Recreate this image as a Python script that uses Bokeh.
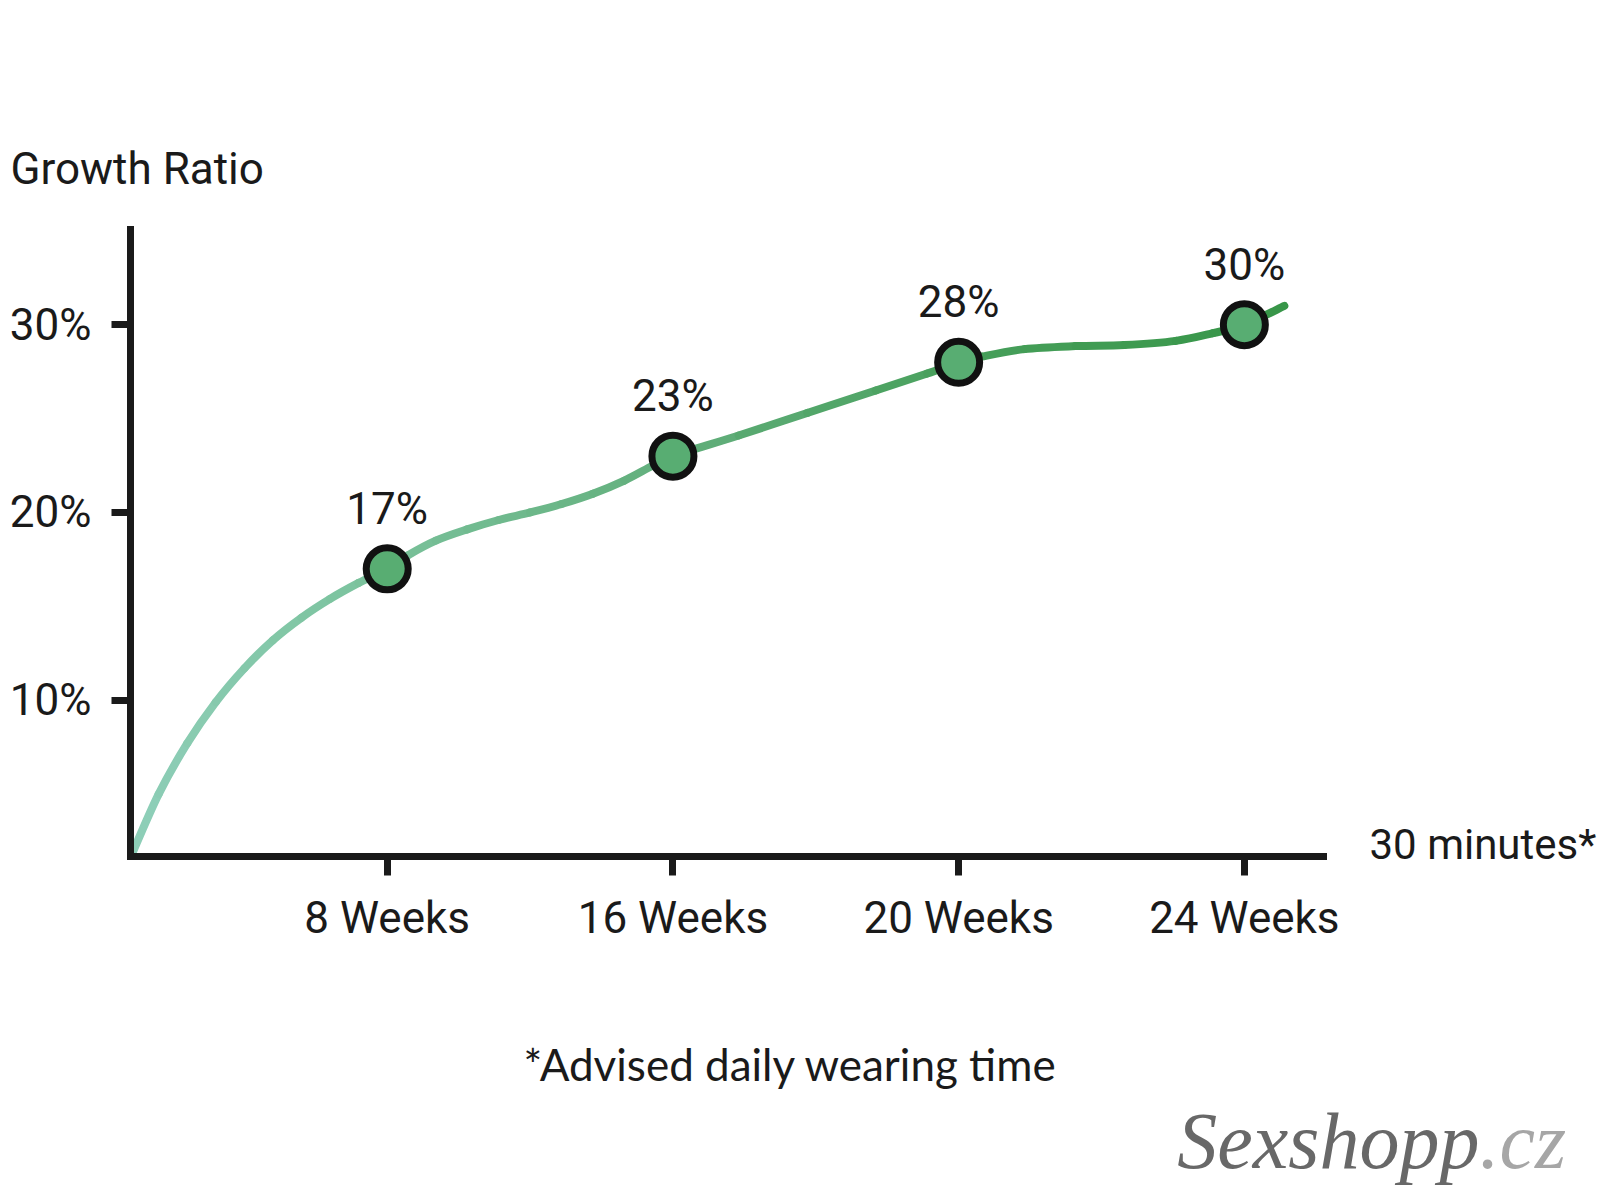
import numpy as np
from bokeh.plotting import figure
from bokeh.layouts import column, row
from bokeh.models import FixedTicker, Label, Range1d, ColumnDataSource, LinearAxis
from bokeh.core.properties import value
from bokeh.embed import file_html
from bokeh.resources import INLINE

# ---------------- data ----------------
categories = ["8 Weeks", "16 Weeks", "20 Weeks", "24 Weeks"]
positions = [1, 2, 3, 4]
growth = [17, 23, 28, 30]
point_labels = ["17%", "23%", "28%", "30%"]
y_ticks = [10, 20, 30]
y_tick_labels = ["10%", "20%", "30%"]
x_unit_label = "30 minutes*"

# curve (x = category position, y = percent)
curve_x = [0.105, 0.20, 0.30, 0.40, 0.50, 0.60, 0.70, 0.80, 0.90, 1.00,
           1.07, 1.17, 1.28, 1.39, 1.50, 1.61, 1.72, 1.83, 1.93, 2.00,
           2.23, 2.47, 2.71, 2.89, 3.00,
           3.08, 3.23, 3.41, 3.58, 3.76, 3.89, 4.00, 4.14]
curve_y = [1.75, 5.0, 7.7, 9.9, 11.7, 13.2, 14.4, 15.4, 16.25, 17.0,
           17.7, 18.5, 19.1, 19.6, 20.0, 20.45, 21.0, 21.7, 22.5, 23.0,
           24.1, 25.3, 26.5, 27.4, 28.0,
           28.3, 28.7, 28.86, 28.92, 29.14, 29.55, 30.0, 31.0]

FONT = "Roboto"
INK = "#1a1a1a"
XR = (0.1015, 4.277)
YR = (1.68, 35.07)

PAGE_W = 1599
TOP_H = 205          # strip holding the y-axis title
MAIN_H = 795         # chart
BOT_H = 1200 - TOP_H - MAIN_H
F_TOP, F_BOT, F_LEFT, F_RIGHT = 229, 856, 130, 1323   # frame edges in page px


def blank(w, h, x0, x1, y0, y1):
    f = figure(width=w, height=h, output_backend="svg", toolbar_location=None,
               x_range=Range1d(x0, x1), y_range=Range1d(y1, y0),
               x_axis_type=None, y_axis_type=None, min_border=0)
    f.outline_line_color = None
    f.xgrid.visible = False
    f.ygrid.visible = False
    f.background_fill_color = "white"
    f.border_fill_color = "white"
    return f


# ---------------- main chart ----------------
p = figure(width=PAGE_W, height=MAIN_H, output_backend="svg", toolbar_location=None,
           x_range=Range1d(*XR), y_range=Range1d(*YR),
           min_border_left=F_LEFT, min_border_top=F_TOP - TOP_H,
           min_border_bottom=TOP_H + MAIN_H - F_BOT, min_border_right=PAGE_W - F_RIGHT)
p.outline_line_color = None
p.xgrid.visible = False
p.ygrid.visible = False
p.background_fill_color = "white"
p.border_fill_color = "white"

px = np.array(curve_x)
py = np.array(curve_y)
n = len(px)
ext_x = np.concatenate([[px[0]], px, [px[-1]]])
ext_y = np.concatenate([[py[0]], py, [py[-1]]])
x0 = px[:-1]; y0 = py[:-1]; x1 = px[1:]; y1 = py[1:]
cx0 = px[:-1] + (ext_x[2:n + 1] - ext_x[0:n - 1]) / 6.0
cy0 = py[:-1] + (ext_y[2:n + 1] - ext_y[0:n - 1]) / 6.0
cx1 = px[1:] - (ext_x[3:n + 2] - ext_x[1:n]) / 6.0
cy1 = py[1:] - (ext_y[3:n + 2] - ext_y[1:n]) / 6.0

stops_x = [0.1, 1.0, 2.0, 3.0, 4.15]
stops_c = [(143, 207, 185), (122, 194, 155), (98, 175, 124), (72, 160, 92), (55, 150, 72)]
mid = (x0 + x1) / 2.0
cols = []
for m in mid:
    r = np.interp(m, stops_x, [c[0] for c in stops_c])
    g = np.interp(m, stops_x, [c[1] for c in stops_c])
    b = np.interp(m, stops_x, [c[2] for c in stops_c])
    cols.append("#%02x%02x%02x" % (int(r), int(g), int(b)))

src = ColumnDataSource(dict(x0=x0, y0=y0, x1=x1, y1=y1,
                            cx0=cx0, cy0=cy0, cx1=cx1, cy1=cy1, c=cols))
p.bezier(x0="x0", y0="y0", x1="x1", y1="y1", cx0="cx0", cy0="cy0",
         cx1="cx1", cy1="cy1", line_color="c", line_width=8,
         line_cap="round", source=src)

p.scatter(positions, growth, size=42, fill_color="#58ad72",
          line_color="#111111", line_width=7)

p.text(x=positions, y=growth, text=point_labels, text_align="center",
       text_baseline="middle", y_offset=-60,
       text_font=value(FONT), text_font_size="44px", text_color=INK)

for ax in (p.xaxis[0], p.yaxis[0]):
    ax.axis_line_width = 7
    ax.axis_line_color = INK
    ax.axis_line_cap = "square"
    ax.major_tick_line_width = 7
    ax.major_tick_line_color = INK
    ax.major_tick_out = 19
    ax.major_tick_in = 0
    ax.minor_tick_line_color = None
    ax.major_label_text_font = FONT
    ax.major_label_text_font_size = "44px"
    ax.major_label_text_color = INK

p.yaxis.ticker = FixedTicker(ticks=y_ticks)
p.yaxis.major_label_overrides = {t: l for t, l in zip(y_ticks, y_tick_labels)}
p.yaxis.major_label_standoff = 20
p.xaxis.ticker = FixedTicker(ticks=positions)
p.xaxis.major_label_overrides = {t: l for t, l in zip(positions, categories)}
p.xaxis.major_label_standoff = 16

# unit caption at the end of the x-axis, carried by a bare right-hand axis
unit_y = 2.3
side = LinearAxis(ticker=FixedTicker(ticks=[unit_y]),
                  major_label_overrides={unit_y: x_unit_label})
side.axis_line_color = None
side.major_tick_line_color = None
side.major_tick_out = 0
side.major_tick_in = 0
side.minor_tick_line_color = None
side.major_label_standoff = 46
side.major_label_text_font = FONT
side.major_label_text_font_size = "42px"
side.major_label_text_color = INK
p.add_layout(side, "right")

# ---------------- text strips (page-pixel coordinates) ----------------
top = blank(PAGE_W, TOP_H, 0, PAGE_W, 0, TOP_H)
top.add_layout(Label(x=10, y=168, text="Growth Ratio", text_baseline="middle",
                     text_font=FONT, text_font_size="44px", text_color=INK))

bottom = blank(PAGE_W, BOT_H, 0, PAGE_W, TOP_H + MAIN_H, 1200)
bottom.add_layout(Label(x=790, y=1063, text="*Advised daily wearing time",
                        text_baseline="middle", text_align="center",
                        text_font="Lato", text_font_size="44px", text_color=INK))
bottom.add_layout(Label(x=1479, y=1140, text="Sexshopp", text_baseline="middle",
                        text_align="right", text_font="Liberation Serif",
                        text_font_style="italic", text_font_size="80px",
                        text_color="#686868"))
bottom.add_layout(Label(x=1479, y=1140, text=".cz", text_baseline="middle",
                        text_align="left", text_font="Liberation Serif",
                        text_font_style="italic", text_font_size="80px",
                        text_color="#a6a6a6"))

# wrapping the chart in its own row keeps the strips' frames independent of it
layout = column(top, row(p), bottom)
open("out.html", "w").write(file_html(layout, INLINE))
